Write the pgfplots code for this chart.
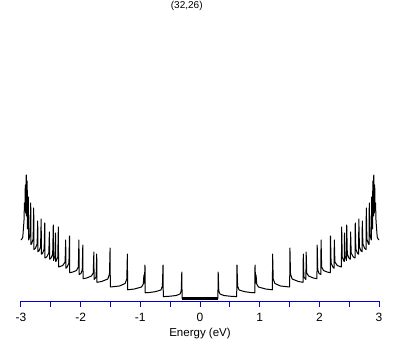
\documentclass[border=0pt]{standalone}
\usepackage{fontspec}
\setmainfont{Liberation Sans}
\usepackage{pgfplots}
\usepackage{pgfplotstable}
\pgfplotsset{compat=1.18}
\definecolor{axblue}{RGB}{0,0,210}
\pgfplotstableread{
E v
0.000 2.5
0.300 2.5
0.305 29
0.315 10
0.335 7
0.40 5.5
0.50 4.8
0.615 4.4
0.620 36
0.630 15
0.655 11
0.75 9.3
0.85 8.5
0.918 8.2
0.922 36
0.932 18
0.940 26
0.950 17
0.980 14
1.10 12
1.213 11.2
1.217 47
1.227 22
1.255 17.5
1.35 15
1.503 14
1.507 53
1.517 27
1.545 22
1.65 19.5
1.727 18.7
1.731 47
1.741 24
1.775 21.5
1.779 49
1.789 28
1.82 25
1.90 23
1.960 22.3
1.964 56
1.974 31
1.995 27.5
2.025 26.5
2.029 61
2.039 34
2.07 30.5
2.13 29
2.183 28.3
2.187 65
2.197 38
2.23 33.5
2.247 32.7
2.251 61
2.261 39
2.30 35.5
2.370 34
2.374 74
2.384 44
2.41 40
2.418 39.6
2.422 68
2.432 45
2.455 40.5
2.459 76
2.469 47
2.50 42.5
2.520 41.8
2.524 69
2.534 48
2.57 44
2.598 43
2.602 78
2.612 52
2.64 47.5
2.658 46.8
2.662 82
2.672 54
2.70 50
2.716 49.3
2.720 80
2.730 57
2.76 52.5
2.783 51.5
2.787 93
2.797 62
2.82 57.5
2.833 56.5
2.837 98
2.847 67
2.865 62
2.872 61
2.876 104
2.884 78
2.892 72
2.896 120
2.902 92
2.908 85
2.912 126
2.918 96
2.924 88
2.928 116
2.934 90
2.942 98
2.950 80
2.960 72
2.970 64
2.985 62
3.000 61
}\dos
\begin{document}
\begin{tikzpicture}
\useasboundingbox (-21pt,-44pt) rectangle (388pt,301pt);
\begin{axis}[
  at={(0pt,0pt)}, anchor=south west,
  scale only axis, width=358pt, height=281pt,
  xmin=-3, xmax=3, ymin=0, ymax=281,
  axis y line=none,
  axis x line*=bottom,
  axis line style={draw=axblue, line width=1pt},
  x axis line style={draw=axblue, line width=1pt},
  every outer x axis line/.append style={draw=axblue, line width=1pt},
  xtick={-3,-2,...,3},
  minor xtick={-2.5,-1.5,...,2.5},
  xtick align=outside,
  major tick length=6pt, minor tick length=6pt,
  every tick/.style={draw=axblue, line width=1pt},
  /pgf/number format/assume math mode=true,
  xticklabel style={font=\fontsize{12}{12}\selectfont, anchor=base, yshift=-14pt},
  xlabel={Energy (eV)},
  xlabel style={font=\fontsize{11.5}{12}\selectfont, at={(axis description cs:0.5,0)}, anchor=base, yshift=-35pt},
  title={(32,26)},
  title style={font=\fontsize{10}{12}\selectfont, at={(axis description cs:0.463,1)}, anchor=base, yshift=5pt},
  clip=false,
]
\addplot[black, line width=1pt, line join=round] table[x=E,y=v]{\dos};
\addplot[black, line width=1pt, line join=round] table[x expr=-\thisrow{E}, y=v]{\dos};
\addplot[black, line width=2.2pt] coordinates {(-0.305,2.5) (0.305,2.5)};
\end{axis}
\end{tikzpicture}
\end{document}
